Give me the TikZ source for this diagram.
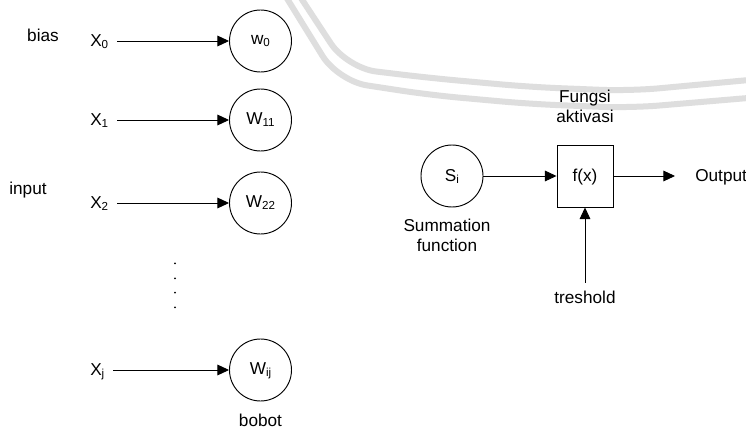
\documentclass[tikz,border=0pt]{standalone}
\usepackage{fontspec}
\setmainfont{Liberation Sans}
\usetikzlibrary{arrows.meta}
\newcommand{\lsub}[1]{\raisebox{-1.5pt}{\fontsize{8.7}{9}\selectfont #1}}
\begin{document}
\begin{tikzpicture}[x=0.75pt,y=-0.75pt,
  every node/.style={font=\fontsize{12.9}{15}\selectfont, inner sep=0pt},
  wcirc/.style={circle, draw, line width=0.7pt, minimum size=46.5pt, text height=6.8pt, text depth=0pt},
  fbox/.style={draw, line width=0.7pt, minimum width=42pt, minimum height=46.5pt, text height=7.5pt, text depth=0pt},
  conn/.style={line width=0.7pt, -{Triangle[length=8.7pt,width=8pt]}},
  wm/.style={line width=4.5pt, draw=black!13, line join=round, rounded corners=22pt}]
\fill[white] (0,0) rectangle (746,431);
\useasboundingbox (0,0) rectangle (746,431);
% watermark
\draw[wm] (297,-8) -- (347,68) -- (430,78) -- (530,87) -- (630,91) -- (760,79);
\draw[wm] (283,-8) -- (338,81) -- (430,95) -- (530,104) -- (630,108) -- (760,97);
% left side
\node[anchor=base] (bias) at (43,42) {bias};
\node[anchor=base] (input) at (28,195) {input};
\node[anchor=base west] (x0) at (90,46.5) {X\lsub{0}};
\node[anchor=base west] (x1) at (90,125.5) {X\lsub{1}};
\node[anchor=base west] (x2) at (90,208.5) {X\lsub{2}};
\node[anchor=base west] (xj) at (90,375.5) {X\lsub{j}};
\node[wcirc, text height=5.2pt] (w0) at (260.5,41) {w\lsub{0}};
\node[wcirc] (w1) at (260.5,120) {W\lsub{11}};
\node[wcirc] (w2) at (260.5,203) {W\lsub{22}};
\node[wcirc] (wj) at (260.5,370) {W\lsub{ij}};
\node[anchor=base] (bobot) at (260.5,426) {bobot};
\draw[conn] ([xshift=6.5pt]x0.east |- w0) -- (w0);
\draw[conn] ([xshift=6.5pt]x1.east |- w1) -- (w1);
\draw[conn] ([xshift=6.5pt]x2.east |- w2) -- (w2);
\draw[conn] ([xshift=6.5pt]xj.east |- wj) -- (wj);
\foreach \yy in {263.3,278.3,292.7,307.3} \fill (175,\yy) circle (0.75pt);
% right side
\node[wcirc, text height=8.6pt] (si) at (452,176) {S\lsub{i}};
\node[align=center] (sf) at (447,235.5) {Summation\\function};
\node[fbox] (fx) at (585,176) {f(x)};
\node[align=center] (fa) at (585,106.5) {Fungsi\\aktivasi};
\node[anchor=base west] (outl) at (695,181) {Output};
\node[anchor=base] (thl) at (585,303) {treshold};
\draw[conn] (si) -- (fx);
\draw[conn] (fx) -- ([xshift=-15pt]outl.west |- fx);
\draw[conn] ([yshift=5.6pt]thl.north) -- (fx);
\end{tikzpicture}
\end{document}
